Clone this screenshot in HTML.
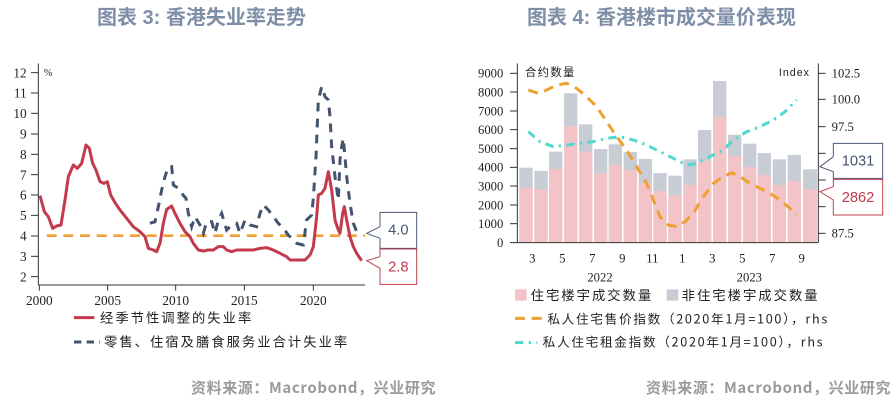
<!DOCTYPE html>
<html><head><meta charset="utf-8"><style>
html,body{margin:0;padding:0;background:#fff;}
body{width:896px;height:404px;position:relative;overflow:hidden;font-family:"Liberation Sans","Noto Sans CJK SC",sans-serif;}
.t{position:absolute;top:1px;font-size:20px;font-weight:bold;color:#7d8ea6;white-space:nowrap;font-family:"Liberation Sans","Noto Sans CJK SC",sans-serif;}
.s{position:absolute;top:377px;font-size:15px;font-weight:bold;color:#9a9a9a;white-space:nowrap;letter-spacing:0.6px;font-family:"Noto Sans CJK SC",sans-serif;}
svg{position:absolute;}
</style></head><body>
<div class="t" style="left:97px;">图表 3: 香港失业率走势</div>
<div class="t" style="left:527px;">图表 4: 香港楼市成交量价表现</div>
<div class="s" style="left:191px;">资料来源：Macrobond，兴业研究</div>
<div class="s" style="left:646px;">资料来源：Macrobond，兴业研究</div>

<svg style="left:0;top:50px" width="450" height="310" viewBox="0 0 1350 930" font-family="Liberation Serif, serif">
<g stroke="#333" stroke-width="3" fill="none">
<line x1="115" y1="40" x2="115" y2="705"/>
<line x1="115" y1="705" x2="1095" y2="705"/>
<line x1="93" y1="68" x2="115" y2="68"/><line x1="93" y1="129" x2="115" y2="129"/><line x1="93" y1="190" x2="115" y2="190"/><line x1="93" y1="252" x2="115" y2="252"/><line x1="93" y1="313" x2="115" y2="313"/><line x1="93" y1="374" x2="115" y2="374"/><line x1="93" y1="435" x2="115" y2="435"/><line x1="93" y1="496" x2="115" y2="496"/><line x1="93" y1="558" x2="115" y2="558"/><line x1="93" y1="619" x2="115" y2="619"/><line x1="93" y1="680" x2="115" y2="680"/>
<line x1="118" y1="705" x2="118" y2="722"/><line x1="323" y1="705" x2="323" y2="722"/><line x1="527" y1="705" x2="527" y2="722"/><line x1="733" y1="705" x2="733" y2="722"/><line x1="940" y1="705" x2="940" y2="722"/>
</g>
<g font-size="40" fill="#222" text-anchor="end">
<text x="80" y="82">12</text><text x="80" y="143">11</text><text x="80" y="204">10</text><text x="80" y="266">9</text><text x="80" y="327">8</text><text x="80" y="388">7</text><text x="80" y="449">6</text><text x="80" y="510">5</text><text x="80" y="572">4</text><text x="80" y="633">3</text><text x="80" y="694">2</text>
</g>
<text x="132" y="78" font-size="30" fill="#222">%</text>
<g font-size="40" fill="#222" text-anchor="middle">
<text x="118" y="765">2000</text><text x="323" y="765">2005</text><text x="527" y="765">2010</text><text x="733" y="765">2015</text><text x="940" y="765">2020</text>
</g>
<line x1="140" y1="557" x2="1095" y2="557" stroke="#f0a030" stroke-width="8" stroke-dasharray="30 20"/>
<polyline fill="none" stroke="#44546e" stroke-width="9" stroke-dasharray="26 22" points="450,520 465,515 475,470 485,420 495,380 505,350 515,350 520,405 535,415 545,430 558,445 565,490 575,530 585,500 600,525 610,550 620,515 635,515 645,550 655,510 665,490 680,540 695,525 710,520 720,550 735,510 750,525 770,530 780,490 790,465 805,480 820,500 835,520 850,535 865,555 875,565 890,580 910,585 920,510 935,495 940,445 948,320 955,150 965,110 975,140 985,150 990,200 995,290 1005,380 1015,450 1020,330 1025,290 1030,265 1040,380 1050,460 1060,520 1070,545 1080,555"/>
<polyline fill="none" stroke="#c23a4c" stroke-width="9" stroke-linejoin="round" points="120,437 133,485 145,500 158,535 170,528 183,525 195,450 205,380 220,345 232,355 245,340 258,285 268,295 278,340 288,360 300,395 312,400 322,395 332,435 345,458 360,480 380,505 400,530 420,545 435,560 445,595 460,600 470,605 480,580 490,520 500,478 515,468 525,490 540,520 555,545 570,560 580,580 595,600 610,603 625,600 640,600 655,590 670,590 680,600 695,605 710,600 760,600 780,595 800,593 820,600 840,610 860,620 870,630 915,630 930,615 940,590 950,500 955,435 965,430 975,415 985,365 995,420 1005,510 1015,540 1020,550 1028,490 1033,470 1040,510 1050,560 1060,590 1070,610 1085,632"/>
<polyline fill="#fff" stroke="#4a5a75" stroke-width="3" points="1140,530 1140,487 1250,487 1250,595 1140,595 1140,565 1100,550 1140,530"/>
<polyline fill="#fff" stroke="#c04050" stroke-width="3" points="1140,620 1140,597 1250,597 1250,703 1140,703 1140,655 1100,632 1140,620"/>
<text x="1195" y="553" font-size="44" fill="#44546e" text-anchor="middle" font-family="Liberation Sans, sans-serif">4.0</text>
<text x="1195" y="664" font-size="44" fill="#c23a4c" text-anchor="middle" font-family="Liberation Sans, sans-serif">2.8</text>
<line x1="222" y1="803" x2="283" y2="803" stroke="#c23a4c" stroke-width="9"/>
<text x="300" y="817" font-size="40" fill="#222" letter-spacing="6" font-family="Noto Sans CJK SC, sans-serif">经季节性调整的失业率</text>
<line x1="222" y1="876" x2="300" y2="876" stroke="#44546e" stroke-width="9" stroke-dasharray="22 16"/>
<text x="312" y="890" font-size="40" fill="#222" letter-spacing="6" font-family="Noto Sans CJK SC, sans-serif">零售、住宿及膳食服务业合计失业率</text>
</svg>

<svg style="left:460px;top:50px" width="436" height="310" viewBox="0 0 1308 930" font-family="Liberation Serif, serif">
<g>
<rect x="178" y="353" width="40" height="225" fill="#c8ccd4"/><rect x="178" y="413" width="40" height="165" fill="#f2c4c8"/>
<rect x="223" y="363" width="40" height="215" fill="#c8ccd4"/><rect x="223" y="418" width="40" height="160" fill="#f2c4c8"/>
<rect x="267" y="305" width="40" height="273" fill="#c8ccd4"/><rect x="267" y="357" width="40" height="221" fill="#f2c4c8"/>
<rect x="312" y="130" width="40" height="448" fill="#c8ccd4"/><rect x="312" y="228" width="40" height="350" fill="#f2c4c8"/>
<rect x="357" y="223" width="40" height="355" fill="#c8ccd4"/><rect x="357" y="305" width="40" height="273" fill="#f2c4c8"/>
<rect x="402" y="297" width="40" height="281" fill="#c8ccd4"/><rect x="402" y="370" width="40" height="208" fill="#f2c4c8"/>
<rect x="446" y="283" width="40" height="295" fill="#c8ccd4"/><rect x="446" y="345" width="40" height="233" fill="#f2c4c8"/>
<rect x="491" y="306" width="40" height="272" fill="#c8ccd4"/><rect x="491" y="360" width="40" height="218" fill="#f2c4c8"/>
<rect x="536" y="327" width="40" height="251" fill="#c8ccd4"/><rect x="536" y="400" width="40" height="178" fill="#f2c4c8"/>
<rect x="580" y="369" width="40" height="209" fill="#c8ccd4"/><rect x="580" y="423" width="40" height="155" fill="#f2c4c8"/>
<rect x="625" y="377" width="40" height="201" fill="#c8ccd4"/><rect x="625" y="436" width="40" height="142" fill="#f2c4c8"/>
<rect x="670" y="328" width="40" height="250" fill="#c8ccd4"/><rect x="670" y="405" width="40" height="173" fill="#f2c4c8"/>
<rect x="714" y="240" width="40" height="338" fill="#c8ccd4"/><rect x="714" y="333" width="40" height="245" fill="#f2c4c8"/>
<rect x="759" y="93" width="40" height="485" fill="#c8ccd4"/><rect x="759" y="201" width="40" height="377" fill="#f2c4c8"/>
<rect x="804" y="254" width="40" height="324" fill="#c8ccd4"/><rect x="804" y="318" width="40" height="260" fill="#f2c4c8"/>
<rect x="849" y="281" width="40" height="297" fill="#c8ccd4"/><rect x="849" y="351" width="40" height="227" fill="#f2c4c8"/>
<rect x="893" y="309" width="40" height="269" fill="#c8ccd4"/><rect x="893" y="375" width="40" height="203" fill="#f2c4c8"/>
<rect x="938" y="328" width="40" height="250" fill="#c8ccd4"/><rect x="938" y="405" width="40" height="173" fill="#f2c4c8"/>
<rect x="983" y="315" width="40" height="263" fill="#c8ccd4"/><rect x="983" y="394" width="40" height="184" fill="#f2c4c8"/>
<rect x="1029" y="358" width="42" height="220" fill="#c8ccd4"/><rect x="1029" y="418" width="42" height="160" fill="#f2c4c8"/>
</g>
<g stroke="#333" stroke-width="3" fill="none">
<line x1="172" y1="40" x2="172" y2="578"/><line x1="1075" y1="40" x2="1075" y2="578"/><line x1="150" y1="578" x2="1075" y2="578"/>
<line x1="150" y1="70" x2="172" y2="70"/><line x1="150" y1="126" x2="172" y2="126"/><line x1="150" y1="183" x2="172" y2="183"/><line x1="150" y1="239" x2="172" y2="239"/><line x1="150" y1="296" x2="172" y2="296"/><line x1="150" y1="352" x2="172" y2="352"/><line x1="150" y1="408" x2="172" y2="408"/><line x1="150" y1="465" x2="172" y2="465"/><line x1="150" y1="521" x2="172" y2="521"/>
<line x1="1075" y1="70" x2="1097" y2="70"/><line x1="1075" y1="148" x2="1097" y2="148"/><line x1="1075" y1="230" x2="1097" y2="230"/><line x1="1075" y1="310" x2="1097" y2="310"/><line x1="1075" y1="390" x2="1097" y2="390"/><line x1="1075" y1="470" x2="1097" y2="470"/><line x1="1075" y1="550" x2="1097" y2="550"/>
</g>
<g font-size="38" fill="#222" text-anchor="end">
<text x="130" y="83">9000</text><text x="130" y="139">8000</text><text x="130" y="196">7000</text><text x="130" y="252">6000</text><text x="130" y="309">5000</text><text x="130" y="365">4000</text><text x="130" y="421">3000</text><text x="130" y="478">2000</text><text x="130" y="534">1000</text><text x="130" y="591">0</text>
</g>
<g font-size="38" fill="#222">
<text x="1115" y="83">102.5</text><text x="1115" y="161">100.0</text><text x="1115" y="243">97.5</text><text x="1115" y="563">87.5</text>
</g>
<text x="195" y="78" font-size="34" fill="#222" letter-spacing="4" font-family="Noto Sans CJK SC, sans-serif">合约数量</text>
<text x="1050" y="78" font-size="32" fill="#222" text-anchor="end" letter-spacing="3" font-family="Liberation Sans, sans-serif">Index</text>
<g font-size="38" fill="#222" text-anchor="middle">
<text x="217" y="637">3</text><text x="307" y="637">5</text><text x="397" y="637">7</text><text x="487" y="637">9</text><text x="577" y="637">11</text><text x="667" y="637">1</text><text x="757" y="637">3</text><text x="847" y="637">5</text><text x="937" y="637">7</text><text x="1025" y="637">9</text>
<text x="420" y="695">2022</text><text x="868" y="695">2023</text>
</g>
<polyline fill="none" stroke="#f0a030" stroke-width="9" stroke-dasharray="30 20" points="205,120 235,130 260,120 290,105 320,100 350,115 380,140 410,170 440,215 470,260 500,300 530,350 560,400 580,450 600,500 625,525 650,530 675,515 700,490 730,440 760,400 790,380 815,368 840,380 870,400 900,415 930,430 960,450 990,475 1010,495"/>
<polyline fill="none" stroke="#50d8d0" stroke-width="9" stroke-dasharray="25 16 7 16" points="205,245 240,275 280,290 320,285 360,280 400,275 440,265 480,260 520,270 560,285 600,305 640,325 680,345 710,340 750,320 790,300 820,270 860,245 900,230 940,210 975,185 1010,150"/>
<polyline fill="#fff" stroke="#4a5a75" stroke-width="3" points="1120,320 1120,280 1268,280 1268,385 1120,385 1120,365 1080,350 1120,320"/>
<polyline fill="#fff" stroke="#c04050" stroke-width="3" points="1120,410 1120,388 1268,388 1268,495 1120,495 1120,450 1080,425 1120,410"/>
<text x="1194" y="347" font-size="44" fill="#44546e" text-anchor="middle" font-family="Liberation Sans, sans-serif">1031</text>
<text x="1194" y="456" font-size="44" fill="#c23a4c" text-anchor="middle" font-family="Liberation Sans, sans-serif">2862</text>
<rect x="165" y="718" width="35" height="34" fill="#f2c4c8"/>
<text x="212" y="750" font-size="40" fill="#222" letter-spacing="6" font-family="Noto Sans CJK SC, sans-serif">住宅楼宇成交数量</text>
<rect x="620" y="718" width="35" height="34" fill="#c8ccd4"/>
<text x="665" y="750" font-size="40" fill="#222" letter-spacing="6" font-family="Noto Sans CJK SC, sans-serif">非住宅楼宇成交数量</text>
<line x1="165" y1="805" x2="245" y2="805" stroke="#f0a030" stroke-width="9" stroke-dasharray="30 20"/>
<text x="262" y="820" font-size="38" fill="#222" letter-spacing="5" font-family="Noto Sans CJK SC, sans-serif">私人住宅售价指数（2020年1月=100），rhs</text>
<line x1="165" y1="878" x2="232" y2="878" stroke="#50d8d0" stroke-width="9" stroke-dasharray="25 16 7 16"/>
<text x="248" y="890" font-size="38" fill="#222" letter-spacing="5" font-family="Noto Sans CJK SC, sans-serif">私人住宅租金指数（2020年1月=100），rhs</text>
</svg>
</body></html>
